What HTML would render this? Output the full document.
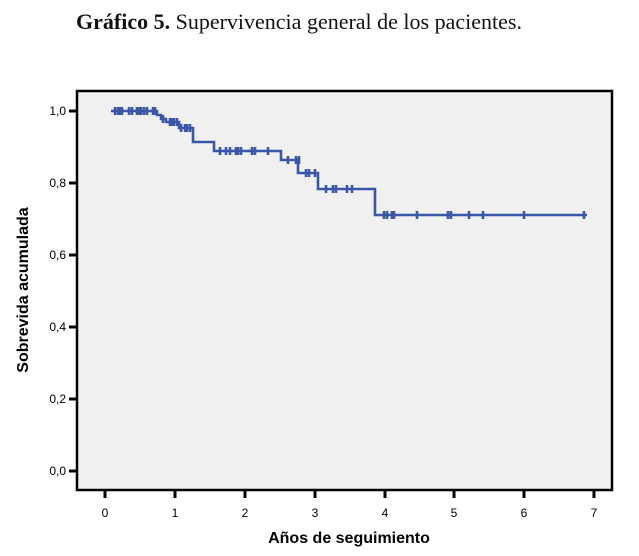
<!DOCTYPE html>
<html><head><meta charset="utf-8"><style>
body{margin:0;background:#fff;}
</style></head><body>
<svg width="639" height="551" xmlns="http://www.w3.org/2000/svg">
<text x="76" y="29" font-family="Liberation Serif, serif" font-size="22" fill="#111"><tspan font-weight="bold">Gráfico 5.</tspan> Supervivencia general de los pacientes.</text>
<rect x="77" y="91" width="535" height="399" fill="#f0f0f0" stroke="#000" stroke-width="2.5"/>
<g stroke="#000" stroke-width="3">
<line x1="69" y1="111" x2="77" y2="111"/><line x1="69" y1="183" x2="77" y2="183"/>
<line x1="69" y1="255" x2="77" y2="255"/><line x1="69" y1="327" x2="77" y2="327"/>
<line x1="69" y1="399" x2="77" y2="399"/><line x1="69" y1="471" x2="77" y2="471"/>
<line x1="105" y1="490" x2="105" y2="498"/><line x1="175" y1="490" x2="175" y2="498"/>
<line x1="245" y1="490" x2="245" y2="498"/><line x1="315" y1="490" x2="315" y2="498"/>
<line x1="385" y1="490" x2="385" y2="498"/><line x1="454" y1="490" x2="454" y2="498"/>
<line x1="524" y1="490" x2="524" y2="498"/><line x1="594" y1="490" x2="594" y2="498"/>
</g>
<g font-family="Liberation Sans, sans-serif" font-size="12" fill="#000" text-anchor="end">
<text x="66" y="115">1,0</text><text x="66" y="187">0,8</text><text x="66" y="259">0,6</text>
<text x="66" y="331">0,4</text><text x="66" y="403">0,2</text><text x="66" y="475">0,0</text>
</g>
<g font-family="Liberation Sans, sans-serif" font-size="12" fill="#000" text-anchor="middle">
<text x="105" y="517">0</text><text x="175" y="517">1</text><text x="245" y="517">2</text><text x="315" y="517">3</text>
<text x="385" y="517">4</text><text x="454" y="517">5</text><text x="524" y="517">6</text><text x="594" y="517">7</text>
</g>
<text x="349" y="543" font-family="Liberation Sans, sans-serif" font-size="16" font-weight="bold" text-anchor="middle">Años de seguimiento</text>
<text transform="translate(28,290) rotate(-90)" font-family="Liberation Sans, sans-serif" font-size="16" font-weight="bold" text-anchor="middle">Sobrevida acumulada</text>
<path d="M111 111 H157 V115 H161 V119 H166 V122 H179 V128 H193 V142 H214 V151 H281 V160 H298 V173 H318 V189 H375 V215 H587" fill="none" stroke="#3a56a8" stroke-width="2.6"/>
<g stroke="#3a56a8" stroke-width="2.6">
<path d="M115 107v8M118 107v8M120 107v8M122 107v8M129 107v8M132 107v8M137 107v8M139 107v8M141 107v8M144 107v8M147 107v8M153 107v8M155 107v8M163 115v8M170 118v8M172 118v8M174 118v8M177 118v8M181 124v8M185 124v8M187 124v8M190 124v8M220 147v8M226 147v8M230 147v8M236 147v8M238 147v8M241 147v8M252 147v8M255 147v8M268 147v8M288 156v8M296 156v8M299 156v8M306 169v8M309 169v8M315 169v8M326 185v8M333 185v8M336 185v8M347 185v8M352 185v8M384 211v8M387 211v8M392 211v8M394 211v8M417 211v8M448 211v8M451 211v8M469 211v8M483 211v8M524 211v8M584 211v8"/>
</g>
</svg>
</body></html>
